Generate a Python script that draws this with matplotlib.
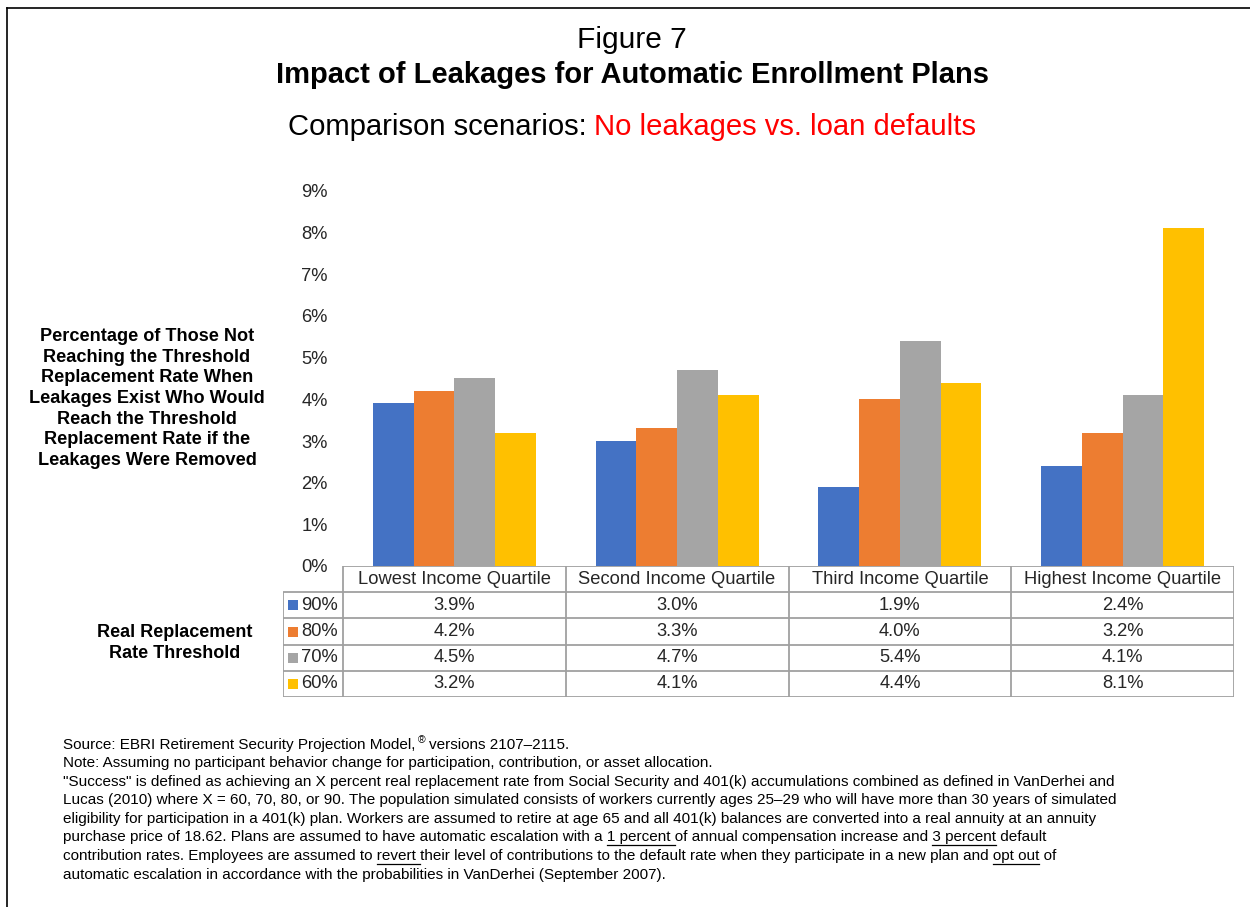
import matplotlib
matplotlib.use("Agg")
import matplotlib.pyplot as plt
from matplotlib.lines import Line2D

plt.rcParams["font.family"] = ["Liberation Sans", "DejaVu Sans"]

# data
quartiles = ["Lowest Income Quartile", "Second Income Quartile",
             "Third Income Quartile", "Highest Income Quartile"]
thresholds = ["90%", "80%", "70%", "60%"]
rate_90 = [3.9, 3.0, 1.9, 2.4]
rate_80 = [4.2, 3.3, 4.0, 3.2]
rate_70 = [4.5, 4.7, 5.4, 4.1]
rate_60 = [3.2, 4.1, 4.4, 8.1]
series = [rate_90, rate_80, rate_70, rate_60]
colors = ["#4472C4", "#ED7D31", "#A5A5A5", "#FFC000"]
yticks = list(range(0, 10))

notes = [
    "Note: Assuming no participant behavior change for participation, contribution, or asset allocation.",
    "\"Success\" is defined as achieving an X percent real replacement rate from Social Security and 401(k) accumulations combined as defined in VanDerhei and",
    "Lucas (2010) where X = 60, 70, 80, or 90. The population simulated consists of workers currently ages 25\u201329 who will have more than 30 years of simulated",
    "eligibility for participation in a 401(k) plan. Workers are assumed to retire at age 65 and all 401(k) balances are converted into a real annuity at an annuity",
    "purchase price of 18.62. Plans are assumed to have automatic escalation with a 1 percent of annual compensation increase and 3 percent default",
    "contribution rates. Employees are assumed to revert their level of contributions to the default rate when they participate in a new plan and opt out of",
    "automatic escalation in accordance with the probabilities in VanDerhei (September 2007).",
]
# underlined words per note line; the flag says whether the trailing space is underlined too
underlined = {4: [("1 percent", True), ("3 percent", False)],
              5: [("revert", True), ("opt out", False)]}

W, H = 1250, 907
fig = plt.figure(figsize=(W / 100, H / 100), dpi=100)
renderer = fig.canvas.get_renderer()


def fx(x):
    return x / W


def fy(y):
    return 1 - y / H


def text_width(s, **kw):
    t = fig.text(0, 0, s, **kw)
    w = t.get_window_extent(renderer).width
    t.remove()
    return w


# frame lines on top and left
fig.add_artist(Line2D([fx(7), 1], [fy(8), fy(8)], color="black", lw=1.2))
fig.add_artist(Line2D([fx(7), fx(7)], [fy(8), 0], color="black", lw=1.2))

# titles
fig.text(fx(632), fy(40), "Figure 7", ha="center", va="center", fontsize=21.5)
fig.text(fx(632), fy(75), "Impact of Leakages for Automatic Enrollment Plans",
         ha="center", va="center", fontsize=21, fontweight="bold")
sub1 = "Comparison scenarios: "
sub2 = "No leakages vs. loan defaults"
sfs = 21.1
w1 = text_width(sub1 + "x", fontsize=sfs) - text_width("x", fontsize=sfs)
w2 = text_width(sub2, fontsize=sfs)
x0 = 632 - (w1 + w2) / 2
fig.text(fx(x0), fy(127), sub1, ha="left", va="center", fontsize=sfs)
fig.text(fx(x0 + w1), fy(127), sub2, ha="left", va="center", fontsize=sfs,
         color="#FF0000")

# bars
tfs = 13.2
ax = fig.add_axes([fx(343), fy(566), fx(1234) - fx(343), fy(191) - fy(566)])
bw = 0.183
xs = range(len(quartiles))
for i, (vals, c) in enumerate(zip(series, colors)):
    ax.bar([x + (i - 1.5) * bw for x in xs], vals, width=bw, color=c,
           linewidth=0)
ax.set_xlim(-0.5, 3.5)
ax.set_ylim(0, 9)
ax.set_yticks(yticks)
ax.set_yticklabels([f"{t}%" for t in yticks], fontsize=tfs, color="#262626")
ax.set_xticks([])
ax.tick_params(axis="y", length=0, pad=11)
for s in ax.spines.values():
    s.set_visible(False)

# data table under the bars
left = -0.5 - 60 / 222.75
tab = fig.add_axes([fx(283), fy(697), fx(1234) - fx(283), fy(566) - fy(697)])
tab.set_xlim(left, 3.5)
tab.set_ylim(5, 0)
tab.axis("off")
lc = "#A0A0A0"
tab.hlines(0, -0.5, 3.5, color=lc, lw=1.3)
tab.hlines([1, 2, 3, 4, 5], left, 3.5, color=lc, lw=1.3)
tab.vlines(left, 1, 5, color=lc, lw=1.3)
tab.vlines([-0.5, 0.5, 1.5, 2.5, 3.5], 0, 5, color=lc, lw=1.3)
for j, q in enumerate(quartiles):
    tab.text(j, 0.5, q, ha="center", va="center", fontsize=tfs,
             color="#262626")
for i, (lab, vals, c) in enumerate(zip(thresholds, series, colors)):
    tab.scatter([left + 9.5 / 222.75], [i + 1.5], marker="s", s=48, color=c,
                linewidths=0)
    tab.text(left + 18 / 222.75, i + 1.5, lab, ha="left", va="center",
             fontsize=tfs, color="#262626")
    for j, v in enumerate(vals):
        tab.text(j, i + 1.5, f"{v:.1f}%", ha="center", va="center",
                 fontsize=tfs, color="#262626")

# side labels
fig.text(fx(147), fy(398.5),
         "Percentage of Those Not\nReaching the Threshold\nReplacement Rate When\n"
         "Leakages Exist Who Would\nReach the Threshold\nReplacement Rate if the\n"
         "Leakages Were Removed",
         ha="center", va="center", fontsize=13.1, fontweight="bold",
         linespacing=1.28)
fig.text(fx(175), fy(643), "Real Replacement\nRate Threshold", ha="center",
         va="center", fontsize=13.0, fontweight="bold", linespacing=1.29)

# footnotes
fs = 11.0
nx = 63
src = "Source: EBRI Retirement Security Projection Model,"
fig.text(fx(nx), fy(745), src, ha="left", va="center", fontsize=fs)
ws = text_width(src, fontsize=fs)
fig.text(fx(nx + ws + 3), fy(740), "\u00ae", ha="left", va="center",
         fontsize=7.5)
fig.text(fx(nx + ws + 14), fy(745), "versions 2107\u20132115.", ha="left",
         va="center", fontsize=fs)
space = text_width("a a", fontsize=fs) - text_width("aa", fontsize=fs)
for k, line in enumerate(notes):
    y = 763 + k * 18.6
    fig.text(fx(nx), fy(y), line, ha="left", va="center", fontsize=fs)
    for word, trail in underlined.get(k, []):
        pre = line[:line.index(word) + len(word)]
        end = text_width(pre, fontsize=fs)
        start = end - text_width(word, fontsize=fs)
        if trail:
            end += space
        fig.add_artist(Line2D([fx(nx + start), fx(nx + end)],
                              [fy(y + 8), fy(y + 8)], color="black", lw=0.9))

fig.savefig("out.png", dpi=100)
